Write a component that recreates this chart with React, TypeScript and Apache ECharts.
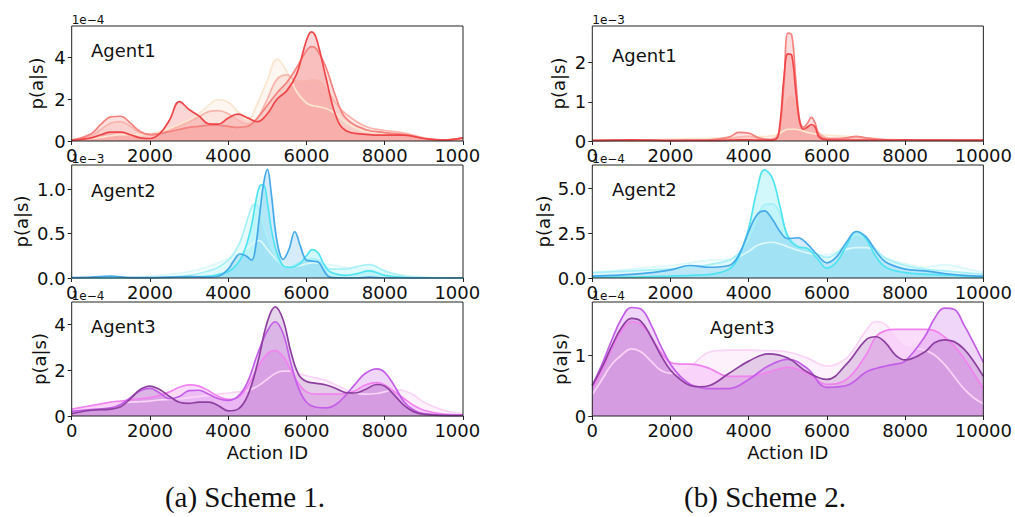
import React, { useEffect, useRef } from "react";
import * as echarts from "echarts";

// ---------- data (x grids and density values, per subplot) ----------
// Scheme 1, Agent1 (×1e-4)
const L1_X = [0, 500, 750, 1000, 1250, 1500, 1750, 2000, 2250, 2500, 2750, 3000, 3250, 3500, 3750, 4000, 4250, 4500, 4750, 5000, 5250, 5500, 5750, 6000, 6125, 6250, 6500, 6750, 7000, 7500, 8000, 8500, 9000, 9500, 10000];
const L1_A = [0.05, 0.12, 0.18, 0.25, 0.3, 0.3, 0.3, 0.35, 0.45, 0.6, 0.8, 1.0, 1.3, 1.7, 1.97, 1.85, 1.4, 1.0, 1.8, 2.9, 3.9, 3.3, 2.35, 1.8, 1.7, 1.65, 1.55, 1.3, 0.9, 0.45, 0.38, 0.3, 0.12, 0.05, 0.1];
const L1_B = [0.04, 0.25, 0.55, 0.85, 0.92, 0.7, 0.4, 0.3, 0.35, 0.5, 0.7, 0.9, 1.15, 1.4, 1.45, 1.3, 1.0, 0.8, 1.1, 2.0, 2.95, 3.15, 2.85, 2.85, 2.9, 2.9, 2.5, 1.8, 1.3, 0.7, 0.5, 0.38, 0.15, 0.05, 0.12];
const L1_C = [0.04, 0.35, 0.8, 1.15, 1.18, 0.85, 0.45, 0.3, 0.35, 0.45, 0.55, 0.65, 0.7, 0.75, 0.75, 0.7, 0.65, 0.7, 1.1, 1.7, 2.3, 2.8, 3.5, 4.3, 4.5, 4.4, 3.5, 2.1, 1.1, 0.55, 0.4, 0.3, 0.12, 0.05, 0.15];
const L1_D = [0.03, 0.15, 0.3, 0.42, 0.42, 0.3, 0.15, 0.12, 0.35, 1.0, 1.88, 1.5, 1.2, 0.82, 0.8, 1.1, 1.28, 1.1, 0.92, 1.3, 2.0, 2.4, 3.2, 4.8, 5.2, 4.9, 3.0, 1.2, 0.5, 0.32, 0.28, 0.28, 0.12, 0.04, 0.15];

// Scheme 1, Agent2 (×1e-3)
const L2_X = [0, 500, 1000, 1500, 2000, 2500, 3000, 3500, 3750, 4000, 4150, 4300, 4450, 4600, 4700, 4800, 4900, 5000, 5100, 5200, 5300, 5400, 5550, 5700, 5850, 6000, 6150, 6300, 6450, 6600, 7000, 7300, 7600, 8000, 8500, 9000, 10000];
const L2_A = [0, 0, 0.005, 0.01, 0.02, 0.04, 0.07, 0.13, 0.17, 0.22, 0.25, 0.28, 0.32, 0.38, 0.41, 0.42, 0.38, 0.32, 0.27, 0.22, 0.18, 0.15, 0.13, 0.13, 0.14, 0.16, 0.17, 0.17, 0.16, 0.15, 0.12, 0.11, 0.1, 0.07, 0.03, 0.01, 0];
const L2_B = [0, 0, 0, 0, 0.005, 0.01, 0.03, 0.08, 0.12, 0.2, 0.28, 0.4, 0.6, 0.8, 0.83, 0.75, 0.6, 0.45, 0.35, 0.25, 0.18, 0.13, 0.12, 0.15, 0.18, 0.2, 0.22, 0.2, 0.15, 0.1, 0.1, 0.13, 0.15, 0.08, 0.02, 0.005, 0];
const L2_C = [0, 0, 0, 0, 0, 0.005, 0.01, 0.02, 0.04, 0.07, 0.12, 0.2, 0.35, 0.6, 0.85, 1.03, 1.05, 0.85, 0.55, 0.35, 0.22, 0.14, 0.12, 0.13, 0.17, 0.25, 0.32, 0.28, 0.15, 0.07, 0.03, 0.05, 0.08, 0.03, 0.005, 0, 0];
const L2_D = [0.005, 0.01, 0.02, 0.005, 0.005, 0.01, 0.015, 0.01, 0.02, 0.1, 0.2, 0.27, 0.25, 0.2, 0.35, 0.7, 1.05, 1.22, 0.95, 0.55, 0.3, 0.21, 0.32, 0.52, 0.35, 0.2, 0.19, 0.18, 0.08, 0.01, 0, 0, 0.01, 0, 0, 0, 0];

// Scheme 1, Agent3 (×1e-4)
const L3_X = [0, 500, 1000, 1250, 1500, 1750, 2000, 2250, 2500, 2750, 3000, 3250, 3500, 3750, 4000, 4250, 4500, 4750, 5000, 5200, 5400, 5600, 5800, 6000, 6250, 6500, 6750, 7000, 7250, 7500, 7800, 8000, 8250, 8500, 8750, 9000, 9500, 10000];
const L3_A = [0.25, 0.4, 0.5, 0.55, 0.6, 0.62, 0.65, 0.7, 0.72, 0.75, 0.8, 0.85, 0.9, 0.95, 1.0, 1.05, 1.1, 1.3, 1.6, 1.85, 1.95, 1.95, 1.85, 1.75, 1.65, 1.55, 1.35, 1.15, 1.0, 0.95, 0.98, 1.05, 1.15, 1.1, 0.9, 0.6, 0.25, 0.1];
const L3_B = [0.3, 0.45, 0.6, 0.65, 0.7, 0.75, 0.8, 0.9, 1.05, 1.25, 1.35, 1.3, 1.1, 0.85, 0.72, 0.8, 1.3, 2.1, 2.7, 2.85, 2.6, 2.0, 1.4, 1.05, 0.95, 0.95, 0.95, 0.98, 1.1, 1.35, 1.45, 1.35, 1.05, 0.75, 0.45, 0.25, 0.08, 0.05];
const L3_C = [0.2, 0.28, 0.35, 0.5, 0.8, 1.1, 1.2, 1.0, 0.75, 0.85, 1.1, 1.12, 0.95, 0.75, 0.68, 0.85, 1.5, 2.7, 3.7, 4.1, 3.6, 2.3, 1.2, 0.6, 0.38, 0.35, 0.5, 0.9, 1.4, 1.85, 2.05, 1.9, 1.3, 0.6, 0.25, 0.1, 0.04, 0.03];
const L3_D = [0.1, 0.25, 0.3, 0.4, 0.75, 1.15, 1.3, 1.15, 0.85, 0.6, 0.55, 0.6, 0.6, 0.45, 0.22, 0.3, 0.9, 2.3, 4.1, 4.75, 4.2, 2.8, 1.8, 1.5, 1.42, 1.35, 1.2, 1.02, 1.0, 1.15, 1.37, 1.3, 0.9, 0.45, 0.18, 0.07, 0.02, 0.02];

// Scheme 2, Agent1 (×1e-3)
const R1_X = [0, 500, 1000, 1500, 2000, 2500, 3000, 3500, 3750, 4000, 4250, 4500, 4700, 4800, 4900, 5000, 5100, 5200, 5300, 5400, 5500, 5600, 5700, 5800, 6000, 6250, 6500, 6750, 7000, 7500, 8000, 8500, 9000, 9500, 10000];
const R1_A = [0.02, 0.02, 0.03, 0.03, 0.05, 0.06, 0.07, 0.09, 0.1, 0.11, 0.11, 0.12, 0.15, 0.2, 0.26, 0.3, 0.3, 0.3, 0.28, 0.25, 0.22, 0.2, 0.18, 0.17, 0.15, 0.13, 0.12, 0.1, 0.08, 0.05, 0.03, 0.02, 0.02, 0.02, 0.02];
const R1_B = [0.02, 0.02, 0.02, 0.02, 0.02, 0.02, 0.03, 0.06, 0.1, 0.12, 0.08, 0.05, 0.1, 0.3, 0.75, 1.08, 1.13, 0.85, 0.5, 0.35, 0.35, 0.4, 0.35, 0.2, 0.08, 0.06, 0.07, 0.1, 0.07, 0.03, 0.02, 0.01, 0.01, 0.01, 0.01];
const R1_C = [0.01, 0.01, 0.01, 0.01, 0.01, 0.02, 0.03, 0.1, 0.22, 0.2, 0.08, 0.03, 0.05, 0.35, 1.45, 2.75, 2.7, 1.6, 0.55, 0.35, 0.45, 0.6, 0.45, 0.15, 0.05, 0.06, 0.08, 0.12, 0.08, 0.03, 0.02, 0.02, 0.02, 0.01, 0.01];
const R1_D = [0.01, 0.02, 0.03, 0.02, 0.01, 0.01, 0.01, 0.02, 0.03, 0.03, 0.02, 0.02, 0.05, 0.45, 1.6, 2.22, 2.18, 1.3, 0.5, 0.3, 0.35, 0.42, 0.35, 0.1, 0.03, 0.02, 0.02, 0.02, 0.02, 0.02, 0.03, 0.02, 0.02, 0.02, 0.02];

// Scheme 2, Agent2 (×1e-4)
const R2_X = [0, 500, 1000, 1500, 2000, 2500, 3000, 3500, 3750, 4000, 4200, 4400, 4600, 4800, 5000, 5250, 5500, 5750, 6000, 6250, 6500, 6750, 7000, 7250, 7500, 8000, 8500, 9000, 9500, 10000];
const R2_A = [0.3, 0.4, 0.5, 0.6, 0.7, 0.85, 1.0, 1.05, 1.2, 1.5, 1.8, 1.95, 2.0, 1.9, 1.75, 1.55, 1.4, 1.3, 1.3, 1.45, 1.6, 1.7, 1.7, 1.5, 1.15, 0.8, 0.6, 0.75, 0.55, 0.3];
const R2_B = [0.3, 0.35, 0.4, 0.45, 0.5, 0.6, 0.75, 1.0, 1.4, 2.2, 3.3, 4.1, 4.15, 3.6, 2.4, 1.8, 1.6, 1.35, 1.15, 1.4, 1.9, 2.4, 2.2, 1.6, 1.1, 0.7, 0.5, 0.4, 0.3, 0.2];
const R2_C = [0.05, 0.05, 0.05, 0.08, 0.1, 0.15, 0.2, 0.5, 1.2, 2.8, 4.8, 6.05, 5.6, 4.0, 2.3, 1.75, 1.65, 1.1, 0.55, 0.9, 1.8, 2.6, 2.2, 1.2, 0.6, 0.3, 0.22, 0.18, 0.1, 0.05];
const R2_D = [0.1, 0.15, 0.2, 0.3, 0.45, 0.7, 0.6, 0.7, 1.3, 2.6, 3.5, 3.75, 3.3, 2.6, 2.2, 2.25, 1.9, 1.3, 0.85, 1.2, 2.0, 2.6, 2.3, 1.5, 0.9, 0.5, 0.4, 0.25, 0.15, 0.1];

// Scheme 2, Agent3 (×1e-4)
const R3_X = [0, 250, 500, 750, 1000, 1250, 1500, 1750, 2000, 2250, 2500, 2750, 3000, 3500, 4000, 4500, 5000, 5500, 6000, 6500, 7000, 7250, 7500, 7750, 8000, 8500, 8750, 9000, 9250, 9500, 9750, 10000];
const R3_A = [0.35, 0.6, 0.85, 1.0, 1.1, 1.05, 0.9, 0.75, 0.7, 0.72, 0.8, 0.95, 1.05, 1.08, 1.08, 1.07, 1.05, 0.95, 0.82, 0.95, 1.4, 1.55, 1.5, 1.3, 1.15, 1.08, 1.0, 0.85, 0.65, 0.45, 0.3, 0.2];
const R3_B = [0.45, 0.75, 1.1, 1.4, 1.55, 1.5, 1.3, 1.05, 0.88, 0.85, 0.85, 0.83, 0.78, 0.65, 0.65, 0.72, 0.8, 0.7, 0.52, 0.6, 1.0, 1.3, 1.4, 1.42, 1.42, 1.42, 1.4, 1.3, 1.15, 0.95, 0.7, 0.45];
const R3_C = [0.5, 0.85, 1.25, 1.6, 1.78, 1.75, 1.5, 1.15, 0.85, 0.65, 0.52, 0.47, 0.45, 0.45, 0.6, 0.82, 0.93, 0.78, 0.47, 0.5, 0.72, 0.78, 0.82, 0.85, 0.9, 1.3, 1.6, 1.77, 1.75, 1.5, 1.2, 0.88];
const R3_D = [0.5, 0.8, 1.15, 1.45, 1.6, 1.55, 1.3, 1.0, 0.75, 0.6, 0.5, 0.48, 0.5, 0.7, 0.9, 1.02, 0.95, 0.72, 0.6, 0.85, 1.25, 1.3, 1.2, 1.0, 0.92, 1.05, 1.2, 1.25, 1.22, 1.1, 0.9, 0.65];

// axis / labels
const X_MAX = 10000;
const X_STEP = 2000;
const Y_MAX = [5.48, 1.27, 4.96, 2.93, 6.32, 1.87];
const Y_STEP = [2, 0.5, 2, 1, 2.5, 1];
const Y_DEC = [0, 1, 0, 0, 1, 0];
const Y_EXP = ["1e\u22124", "1e\u22123", "1e\u22124", "1e\u22123", "1e\u22124", "1e\u22124"];
const AGENTS = ["Agent1", "Agent2", "Agent3"];
const CAPTIONS = ["(a) Scheme 1.", "(b) Scheme 2."];
const Y_LABEL = "p(a|s)";
const X_LABEL = "Action ID";

// ---------- styling / layout ----------
const REDS = ["#fbe6d0", "#f9b4ac", "#f5827e", "#f0464a"];
const BLUES = ["#dcf8f8", "#a8f0f8", "#50e4f2", "#45aaea"];
const PURPLES = ["#f9d4f6", "#f282f0", "#c45ee8", "#8e40a0"];
const FILL_OPACITY = [0.3, 0.27, 0.25, 0.22];
const FONT = "DejaVu Sans";

const COL_LEFT = [71.7, 592.3];
const COL_W = [391.3, 392];
const ROW_TOP = [26, 165, 302];
const ROW_H = [115, 113, 114];
const NAME_GAP = [26, 41, 23, 25, 40, 23];
const AGENT_POS = [
  [91, 50.5], [91, 190.5], [91, 326.7],
  [612, 55], [612, 189.6], [710, 327],
];

const PANELS = [
  { x: L1_X, ys: [L1_A, L1_B, L1_C, L1_D], pal: REDS },
  { x: L2_X, ys: [L2_A, L2_B, L2_C, L2_D], pal: BLUES },
  { x: L3_X, ys: [L3_A, L3_B, L3_C, L3_D], pal: PURPLES },
  { x: R1_X, ys: [R1_A, R1_B, R1_C, R1_D], pal: REDS },
  { x: R2_X, ys: [R2_A, R2_B, R2_C, R2_D], pal: BLUES },
  { x: R3_X, ys: [R3_A, R3_B, R3_C, R3_D], pal: PURPLES },
];

function buildOption() {
  const grid: any[] = [];
  const xAxis: any[] = [];
  const yAxis: any[] = [];
  const series: any[] = [];
  const graphic: any[] = [];

  PANELS.forEach((p, i) => {
    const col = Math.floor(i / 3);
    const row = i % 3;
    grid.push({
      left: COL_LEFT[col],
      top: ROW_TOP[row],
      width: COL_W[col],
      height: ROW_H[row],
      show: true,
      borderColor: "#222",
      borderWidth: 1,
      backgroundColor: "transparent",
      z: 5,
    });
    xAxis.push({
      type: "value",
      gridIndex: i,
      min: 0,
      max: X_MAX,
      interval: X_STEP,
      axisLine: { show: false },
      axisTick: { show: true, length: 4, lineStyle: { color: "#222", width: 1 } },
      splitLine: { show: false },
      axisLabel: {
        fontSize: 18,
        fontFamily: FONT,
        color: "#111",
        margin: 5,
        formatter: (v: number) => String(Math.round(v)),
      },
      name: row === 2 ? X_LABEL : "",
      nameLocation: "middle",
      nameGap: 27,
      nameTextStyle: { fontSize: 18, fontFamily: FONT, color: "#111" },
    });
    yAxis.push({
      type: "value",
      gridIndex: i,
      min: 0,
      max: Y_MAX[i],
      interval: Y_STEP[i],
      axisLine: { show: false },
      axisTick: { show: true, length: 4, lineStyle: { color: "#222", width: 1 } },
      splitLine: { show: false },
      axisLabel: {
        fontSize: 18,
        fontFamily: FONT,
        color: "#111",
        margin: 6,
        showMaxLabel: false,
        formatter: (v: number) => v.toFixed(Y_DEC[i]),
      },
      name: Y_LABEL,
      nameLocation: "middle",
      nameGap: NAME_GAP[i],
      nameTextStyle: { fontSize: 18, fontFamily: FONT, color: "#111" },
    });
    // fills first
    p.ys.forEach((ys, k) => {
      series.push({
        type: "line",
        xAxisIndex: i,
        yAxisIndex: i,
        data: p.x.map((xv, j) => [xv, ys[j]]),
        smooth: 0.4,
        symbol: "none",
        lineStyle: { width: 0, opacity: 0 },
        areaStyle: { color: p.pal[k], opacity: FILL_OPACITY[k] },
        z: 2,
        silent: true,
      });
    });
    // then lines
    p.ys.forEach((ys, k) => {
      series.push({
        type: "line",
        xAxisIndex: i,
        yAxisIndex: i,
        data: p.x.map((xv, j) => [xv, ys[j]]),
        smooth: 0.4,
        symbol: "none",
        lineStyle: { width: 1.7, color: p.pal[k] },
        z: 3,
        silent: true,
      });
    });
    // agent label
    graphic.push({
      type: "text",
      x: AGENT_POS[i][0],
      y: AGENT_POS[i][1],
      z: 50,
      style: {
        text: AGENTS[row],
        fontSize: 18,
        fontFamily: FONT,
        fill: "#111",
        align: "left",
        verticalAlign: "middle",
      },
    });
    // offset (exponent) text
    graphic.push({
      type: "text",
      x: COL_LEFT[col],
      y: ROW_TOP[row] - 6.5,
      z: 50,
      style: {
        text: Y_EXP[i],
        fontSize: 12,
        fontFamily: FONT,
        fill: "#111",
        align: "left",
        verticalAlign: "middle",
      },
    });
  });

  // left sub-figure crop edge
  graphic.push({
    type: "rect",
    z: 100,
    shape: { x: 480, y: 142, width: 22, height: 300 },
    style: { fill: "#ffffff" },
  });

  CAPTIONS.forEach((c, idx) => {
    graphic.push({
      type: "text",
      x: idx === 0 ? 245 : 765,
      y: 497,
      z: 50,
      style: {
        text: c,
        fontSize: 29,
        fontFamily: "Liberation Serif",
        fill: "#111",
        align: "center",
        verticalAlign: "middle",
      },
    });
  });

  return {
    animation: false,
    backgroundColor: "#ffffff",
    grid,
    xAxis,
    yAxis,
    series,
    graphic,
  };
}

export default function App() {
  const ref = useRef<HTMLDivElement>(null);
  useEffect(() => {
    if (!ref.current) return;
    const chart = echarts.init(ref.current, undefined, { renderer: "svg" });
    chart.setOption(buildOption() as any);
    return () => chart.dispose();
  }, []);
  return (
    <div
      ref={ref}
      style={{ position: "absolute", left: 0, top: 0, width: 1015, height: 517, background: "#fff" }}
    />
  );
}
